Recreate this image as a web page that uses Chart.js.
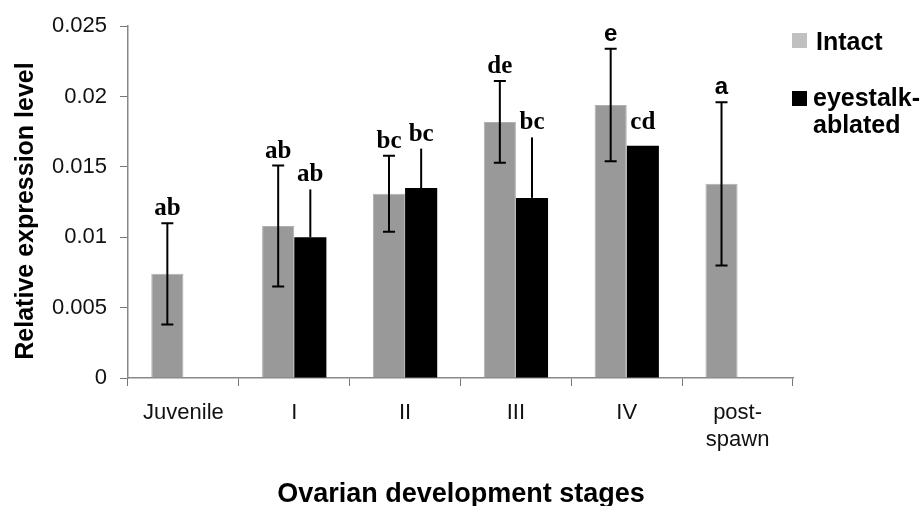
<!DOCTYPE html>
<html>
<head>
<meta charset="utf-8">
<script src="https://cdn.jsdelivr.net/npm/chart.js@4/dist/chart.umd.min.js"></script>
<style>
html,body{margin:0;padding:0;background:#fff;}
canvas{display:block;}
</style>
</head>
<body>
<canvas id="c" width="922" height="506"></canvas>
<script>
const categories = ['Juvenile', 'I', 'II', 'III', 'IV', ['post-', 'spawn']];
const intactValues = [0.0074, 0.0108, 0.0131, 0.0182, 0.0194, 0.0138];
const intactErrors = [0.0036, 0.0043, 0.0027, 0.0029, 0.0040, 0.0058];
const ablatedValues = [null, 0.0100, 0.0135, 0.0128, 0.0165, null];
const ablatedErrors = [null, 0.0034, 0.0028, 0.0043, 0, null];
const intactLetters = ['ab', 'ab', 'bc', 'de', 'e', 'a'];
const ablatedLetters = ['', 'ab', 'bc', 'bc', 'cd', ''];
const yTickLabels = ['0', '0.005', '0.01', '0.015', '0.02', '0.025'];
const seriesNames = ['Intact', 'eyestalk-ablated'];

const SANS = '"Liberation Sans", Arial, sans-serif';
const SERIF = '"Liberation Serif", "Times New Roman", serif';

const errorBars = {
  id: 'errorBars',
  afterDatasetsDraw(chart) {
    const ctx = chart.ctx;
    const ys = chart.scales.y;
    const errs = [intactErrors, ablatedErrors];
    const letters = [intactLetters, ablatedLetters];
    chart.data.datasets.forEach((ds, di) => {
      const meta = chart.getDatasetMeta(di);
      meta.data.forEach((el, i) => {
        const v = ds.data[i];
        if (v == null) return;
        const e = errs[di][i] || 0;
        const x = el.x;
        const yTop = ys.getPixelForValue(v + e);
        const yBot = ys.getPixelForValue(v - e);
        ctx.save();
        ctx.strokeStyle = '#000';
        ctx.lineWidth = 2;
        if (e > 0) {
          ctx.beginPath();
          ctx.moveTo(x, yTop);
          ctx.lineTo(x, di === 0 ? yBot : el.y);
          ctx.stroke();
          if (di === 0) {
            ctx.beginPath();
            ctx.moveTo(x - 6, yTop); ctx.lineTo(x + 6, yTop);
            ctx.moveTo(x - 6, yBot); ctx.lineTo(x + 6, yBot);
            ctx.stroke();
          }
        }
        const t = letters[di][i];
        if (t) {
          const single = t.length === 1;
          ctx.font = single ? 'bold 24px ' + SANS : 'bold 25px ' + SERIF;
          ctx.fillStyle = '#000';
          ctx.textAlign = 'center';
          ctx.textBaseline = 'alphabetic';
          const base = e > 0 ? yTop - 8 : el.y - 17;
          ctx.fillText(t, x, base);
        }
        ctx.restore();
      });
    });
  }
};

const decorations = {
  id: 'decorations',
  afterDraw(chart) {
    const ctx = chart.ctx;
    ctx.save();
    // legend
    ctx.fillStyle = '#c0c0c0';
    ctx.fillRect(792, 33, 15, 15);
    ctx.fillStyle = '#000';
    ctx.fillRect(792, 91, 15, 15);
    ctx.font = 'bold 25px ' + SANS;
    ctx.textAlign = 'left';
    ctx.textBaseline = 'alphabetic';
    ctx.fillText(seriesNames[0], 816, 50);
    ctx.fillText('eyestalk-', 813, 106);
    ctx.fillText('ablated', 813, 133);
    // x title
    ctx.font = 'bold 27px ' + SANS;
    ctx.textAlign = 'center';
    ctx.fillText('Ovarian development stages', 461, 502);
    // y title
    ctx.translate(33, 211);
    ctx.rotate(-Math.PI / 2);
    ctx.font = 'bold 25px ' + SANS;
    ctx.fillText('Relative expression level', 0, 0);
    ctx.restore();
  }
};

new Chart(document.getElementById('c'), {
  type: 'bar',
  data: {
    labels: categories,
    datasets: [
      { label: seriesNames[0], data: intactValues, backgroundColor: '#999999', borderColor: '#b0b0b0', borderWidth: 1 },
      { label: seriesNames[1], data: ablatedValues, backgroundColor: '#000000', borderWidth: 0 }
    ]
  },
  options: {
    responsive: false,
    animation: false,
    devicePixelRatio: 1,
    layout: { padding: { left: 0, top: 23, right: 129, bottom: 0 } },
    datasets: { bar: { barPercentage: 1, categoryPercentage: 0.58 } },
    plugins: { legend: { display: false }, tooltip: { enabled: false } },
    scales: {
      x: {
        afterFit(s) { s.height = 128; },
        grid: { display: true, drawOnChartArea: false, drawTicks: true, tickLength: 8, color: '#777', offset: true },
        border: { color: '#888', width: 1.5 },
        ticks: { font: { family: SANS, size: 22, lineHeight: 1.22 }, color: '#111', padding: 14, maxRotation: 0, autoSkip: false }
      },
      y: {
        min: 0, max: 0.025,
        afterFit(s) { s.width = 128; },
        grid: { display: true, drawOnChartArea: false, drawTicks: true, tickLength: 8, color: '#777' },
        border: { color: '#888', width: 1.5 },
        ticks: {
          stepSize: 0.005,
          font: { family: SANS, size: 22 },
          color: '#111',
          padding: 13,
          callback: (v, i) => yTickLabels[i]
        }
      }
    }
  },
  plugins: [errorBars, decorations]
});
</script>
</body>
</html>
